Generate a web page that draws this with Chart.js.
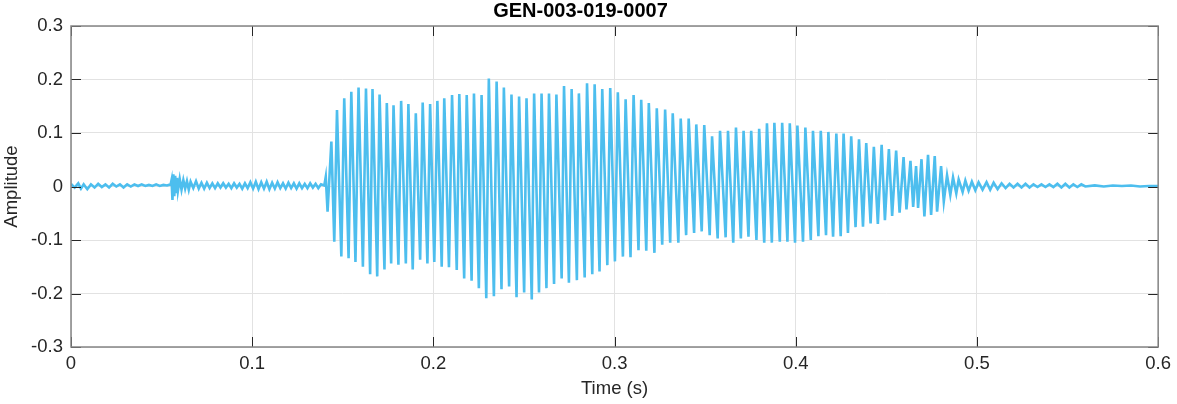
<!DOCTYPE html>
<html>
<head>
<meta charset="utf-8">
<title>GEN-003-019-0007</title>
<script src="https://cdn.jsdelivr.net/npm/chart.js@4.4.0/dist/chart.umd.min.js"></script>
<style>
  body { margin: 0; background: #fff; }
  canvas { display: block; }
</style>
</head>
<body>
<canvas id="waveChart" width="1177" height="404"></canvas>
<script>
// Waveform: lead-in noise, voiced part (peak by peak), decaying tail
var onsetTimes = [
  0, 0.002, 0.004, 0.0055, 0.007, 0.009, 0.011, 0.013, 0.015, 0.017,
  0.019, 0.021, 0.023, 0.025, 0.027, 0.029, 0.031, 0.033, 0.035, 0.037,
  0.039, 0.041, 0.043, 0.045, 0.047, 0.049, 0.051, 0.053, 0.055, 0.0555,
  0.056, 0.0565, 0.057, 0.0575, 0.058, 0.0585, 0.059, 0.060, 0.061, 0.062,
  0.063, 0.064, 0.065, 0.066, 0.0675, 0.069, 0.0705, 0.072, 0.0735, 0.075,
  0.0765, 0.078, 0.0795, 0.081, 0.0825, 0.084, 0.0855, 0.087, 0.0885, 0.090,
  0.0915, 0.093, 0.0945, 0.096, 0.0975, 0.099, 0.1005, 0.102, 0.1035, 0.105,
  0.1065, 0.108, 0.1095, 0.111, 0.1125, 0.114, 0.1155, 0.117, 0.1185, 0.120,
  0.1215, 0.123, 0.1245, 0.126, 0.1275, 0.129, 0.1305, 0.132, 0.1335, 0.135,
  0.1365, 0.138
];
var onsetAmps = [
  0.005, -0.002, 0.006, -0.004, 0.004, -0.005, 0.004, -0.002, 0.005, -0.001,
  0.004, -0.002, 0.005, 0.000, 0.004, -0.002, 0.004, 0.000, 0.004, 0.001,
  0.004, 0.001, 0.003, 0.001, 0.004, 0.001, 0.003, 0.002, 0.004, 0.012,
  -0.025, 0.023, -0.018, 0.020, -0.010, 0.016, -0.008, 0.014, -0.006, 0.012,
  -0.004, 0.010, -0.006, 0.009, -0.003, 0.010, -0.004, 0.007, -0.004, 0.007,
  -0.003, 0.006, -0.003, 0.006, -0.002, 0.006, -0.002, 0.005, -0.003, 0.006,
  -0.002, 0.005, -0.004, 0.006, -0.003, 0.008, -0.004, 0.009, -0.005, 0.008,
  -0.004, 0.009, -0.005, 0.007, -0.004, 0.008, -0.003, 0.006, -0.004, 0.007,
  -0.003, 0.006, -0.004, 0.006, -0.003, 0.005, -0.003, 0.006, -0.002, 0.005,
  -0.003, 0.004
];

var voicedTimes = [
  0.1398, 0.1406, 0.1416, 0.1437, 0.1453, 0.1468, 0.1492, 0.1508, 0.1532, 0.1547,
  0.1570, 0.1587, 0.1611, 0.1628, 0.1651, 0.1664, 0.1690, 0.1703, 0.1730, 0.1743,
  0.1767, 0.1780, 0.1807, 0.1822, 0.1848, 0.1862, 0.1886, 0.1903, 0.1927, 0.1941,
  0.1967, 0.1982, 0.2005, 0.2022, 0.2046, 0.2060, 0.2086, 0.2103, 0.2129, 0.2143,
  0.2170, 0.2184, 0.2211, 0.2224, 0.2251, 0.2266, 0.2292, 0.2306, 0.2334, 0.2349,
  0.2376, 0.2389, 0.2418, 0.2431, 0.2459, 0.2473, 0.2501, 0.2514, 0.2543, 0.2556,
  0.2583, 0.2597, 0.2624, 0.2638, 0.2666, 0.2679, 0.2708, 0.2721, 0.2748, 0.2763,
  0.2792, 0.2803, 0.2835, 0.2848, 0.2877, 0.2890, 0.2917, 0.2932, 0.2960, 0.2976,
  0.3002, 0.3018, 0.3046, 0.3061, 0.3088, 0.3105, 0.3132, 0.3147, 0.3175, 0.3189,
  0.3220, 0.3233, 0.3263, 0.3279, 0.3307, 0.3321, 0.3352, 0.3365, 0.3395, 0.3409,
  0.3439, 0.3451, 0.3481, 0.3495, 0.3525, 0.3538, 0.3569, 0.3582, 0.3613, 0.3626,
  0.3655, 0.3670, 0.3697, 0.3712, 0.3739, 0.3754, 0.3783, 0.3798, 0.3826, 0.3841,
  0.3868, 0.3882, 0.3912, 0.3925, 0.3954, 0.3967, 0.3996, 0.4009, 0.4040, 0.4053,
  0.4083, 0.4095, 0.4125, 0.4138, 0.4167, 0.4180, 0.4206, 0.4224, 0.4248, 0.4264,
  0.4288, 0.4306, 0.4330, 0.4349, 0.4371, 0.4389, 0.4413, 0.4431, 0.4453, 0.4474,
  0.4492, 0.4514, 0.4532, 0.4554, 0.4573, 0.4595, 0.4611, 0.4633, 0.4648, 0.4664,
  0.4675, 0.4694, 0.4710, 0.4730, 0.4747, 0.4767, 0.4780, 0.4802, 0.4817, 0.4835,
  0.4853, 0.4868, 0.4886, 0.4899, 0.4921, 0.4936, 0.4954, 0.4972, 0.4991
];
var voicedAmps = [
  0.002, 0.018, -0.047, 0.084, -0.103, 0.143, -0.131, 0.165, -0.134, 0.177,
  -0.141, 0.185, -0.150, 0.183, -0.164, 0.182, -0.168, 0.172, -0.155, 0.156,
  -0.144, 0.152, -0.146, 0.160, -0.144, 0.154, -0.155, 0.137, -0.137, 0.157,
  -0.144, 0.154, -0.141, 0.160, -0.150, 0.165, -0.151, 0.171, -0.156, 0.173,
  -0.172, 0.171, -0.176, 0.174, -0.190, 0.171, -0.209, 0.202, -0.205, 0.196,
  -0.192, 0.185, -0.187, 0.172, -0.207, 0.168, -0.198, 0.165, -0.211, 0.174,
  -0.198, 0.174, -0.190, 0.174, -0.182, 0.172, -0.172, 0.188, -0.180, 0.182,
  -0.175, 0.174, -0.170, 0.193, -0.164, 0.191, -0.159, 0.182, -0.147, 0.184,
  -0.140, 0.176, -0.131, 0.163, -0.132, 0.171, -0.119, 0.162, -0.120, 0.156,
  -0.124, 0.146, -0.109, 0.144, -0.105, 0.137, -0.105, 0.127, -0.091, 0.127,
  -0.087, 0.116, -0.084, 0.115, -0.091, 0.094, -0.097, 0.104, -0.095, 0.104,
  -0.105, 0.110, -0.097, 0.104, -0.094, 0.104, -0.100, 0.108, -0.105, 0.118,
  -0.105, 0.119, -0.103, 0.119, -0.103, 0.118, -0.105, 0.114, -0.103, 0.110,
  -0.100, 0.104, -0.093, 0.104, -0.091, 0.102, -0.094, 0.099, -0.093, 0.099,
  -0.087, 0.094, -0.076, 0.088, -0.075, 0.081, -0.069, 0.074, -0.070, 0.078,
  -0.063, 0.070, -0.055, 0.067, -0.049, 0.055, -0.043, 0.048, -0.038, 0.038,
  -0.040, 0.051, -0.056, 0.059, -0.053, 0.057, -0.047, 0.038, -0.028, 0.021,
  -0.016, 0.017, -0.013, 0.013, -0.010, 0.011, -0.008, 0.009, -0.007
];

var tailTimes = [
  0.5009, 0.5031, 0.5053, 0.5073, 0.5092, 0.5114, 0.5136, 0.5158, 0.5180, 0.5202,
  0.5224, 0.5246, 0.5268, 0.5290, 0.5312, 0.5334, 0.5356, 0.5378, 0.5400, 0.5422,
  0.5444, 0.5466, 0.5488, 0.5510, 0.5532, 0.5554, 0.5576, 0.5598, 0.5650, 0.5700,
  0.5750, 0.5800, 0.5850, 0.5900, 0.5950, 0.6000
];
var tailAmps = [
  0.008, -0.006, 0.008, -0.006, 0.007, -0.005, 0.006, -0.003, 0.005, -0.002,
  0.005, -0.002, 0.005, -0.002, 0.004, -0.001, 0.004, -0.001, 0.004, -0.001,
  0.005, -0.002, 0.005, -0.002, 0.004, -0.001, 0.004, 0.000, 0.002, 0.000,
  0.002, 0.001, 0.002, 0.000, 0.001, 0.001
];

var xTicks = [0, 0.1, 0.2, 0.3, 0.4, 0.5, 0.6];
var yTicks = [-0.3, -0.2, -0.1, 0, 0.1, 0.2, 0.3];

var timeS = onsetTimes.concat(voicedTimes, tailTimes);
var amplitude = onsetAmps.concat(voicedAmps, tailAmps);
var points = timeS.map(function (t, i) { return { x: t, y: amplitude[i] }; });

var fontFamily = "'Liberation Sans', Arial, Helvetica, sans-serif";
var textColor = '#262626';
var gridColor = '#e2e2e2';

// MATLAB-style box with inward tick marks
var axesFrame = {
    id: 'axesFrame',
    afterDatasetsDraw: function (chart) {
        var ctx = chart.ctx;
        var a = chart.chartArea;
        var xs = chart.scales.x, ys = chart.scales.y;
        ctx.save();
        ctx.strokeStyle = textColor;
        ctx.lineWidth = 1;
        ctx.beginPath();
        xs.ticks.forEach(function (t) {
            var px = Math.round(xs.getPixelForValue(t.value)) + 0.5;
            ctx.moveTo(px, a.bottom); ctx.lineTo(px, a.bottom - 10);
            ctx.moveTo(px, a.top); ctx.lineTo(px, a.top + 10);
        });
        ys.ticks.forEach(function (t) {
            var py = Math.round(ys.getPixelForValue(t.value)) + 0.5;
            ctx.moveTo(a.left, py); ctx.lineTo(a.left + 10, py);
            ctx.moveTo(a.right, py); ctx.lineTo(a.right - 10, py);
        });
        ctx.stroke();
        ctx.strokeStyle = '#858585';
        ctx.lineWidth = 1.5;
        ctx.strokeRect(a.left, a.top, a.right - a.left, a.bottom - a.top);
        ctx.restore();
    }
};

var ctx = document.getElementById('waveChart').getContext('2d');
var waveChart = new Chart(ctx, {
    type: 'line',
    data: {
        datasets: [{
            data: points,
            borderColor: '#4DBEEE',
            borderWidth: 2.6,
            pointRadius: 0,
            tension: 0,
            fill: false
        }]
    },
    options: {
        responsive: false,
        animation: false,
        devicePixelRatio: 1,
        layout: { padding: { left: 0, right: 16, top: 0, bottom: 0 } },
        plugins: {
            legend: { display: false },
            tooltip: { enabled: false },
            title: {
                display: true,
                text: 'GEN-003-019-0007',
                color: '#000',
                font: { family: fontFamily, size: 20, weight: 'bold', lineHeight: 1.15 },
                padding: { top: 0, bottom: 3 }
            }
        },
        scales: {
            x: {
                type: 'linear',
                min: 0,
                max: 0.6,
                afterBuildTicks: function (scale) {
                    scale.ticks = xTicks.map(function (v) { return { value: v }; });
                },
                afterFit: function (scale) { scale.height = 57; },
                grid: { color: gridColor, drawTicks: false },
                border: { display: false },
                ticks: {
                    color: textColor,
                    padding: 6,
                    maxRotation: 0,
                    font: { family: fontFamily, size: 18.5 },
                    callback: function (v) { return String(Math.round(v * 10) / 10); }
                },
                title: {
                    display: true,
                    text: 'Time (s)',
                    color: textColor,
                    font: { family: fontFamily, size: 18.5 },
                    padding: { top: 0, bottom: 4 }
                }
            },
            y: {
                min: -0.3,
                max: 0.3,
                afterBuildTicks: function (scale) {
                    scale.ticks = yTicks.map(function (v) { return { value: v }; });
                },
                afterFit: function (scale) { scale.width = 71; },
                grid: { color: gridColor, drawTicks: false },
                border: { display: false },
                ticks: {
                    color: textColor,
                    padding: 8,
                    font: { family: fontFamily, size: 18.5 },
                    callback: function (v) { return String(Math.round(v * 10) / 10); }
                },
                title: {
                    display: true,
                    text: 'Amplitude',
                    color: textColor,
                    font: { family: fontFamily, size: 18.5 },
                    padding: { top: 1, bottom: 0 }
                }
            }
        }
    },
    plugins: [axesFrame]
});
</script>
</body>
</html>
